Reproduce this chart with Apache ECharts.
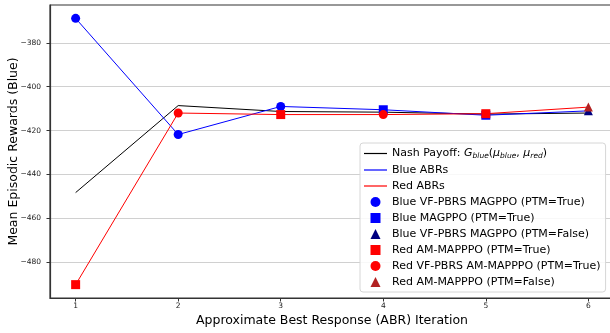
<!DOCTYPE html>
<html>
<head>
<meta charset="utf-8">
<script src="https://cdn.jsdelivr.net/npm/echarts@6/dist/echarts.min.js"></script>
<style>
  html, body { margin: 0; padding: 0; background: #fff; }
  #chart { width: 610px; height: 333px; }
</style>
</head>
<body>
<div id="chart"></div>
<script>
// ABR iterations on the x axis
const iterations = [1, 2, 3, 4, 5, 6];

// Mean episodic rewards (Blue) per iteration
const nashPayoff = [-448.3, -408.6, -411.3, -411.6, -412.5, -412.0];
const blueABR    = [-368.8, -421.8, -409.0, -410.5, -413.0, -411.0];
const redABR     = [-490.3, -412.0, -412.7, -412.7, -412.3, -409.3];

// Which algorithm produced each ABR (index into iterations)
const blueVfPbrsPtmIdx   = [0, 1, 2];
const blueMagppoPtmIdx   = [3, 4];
const blueVfPbrsNoPtmIdx = [5];
const redAmPtmIdx        = [0, 2, 4];
const redVfPbrsPtmIdx    = [1, 3];
const redAmNoPtmIdx      = [5];

// Tick values
const xTicks = [1, 2, 3, 4, 5, 6];
const yTicks = [-480, -460, -440, -420, -400, -380];

const FONT = 'DejaVu Sans';

const pairs = (vals) => iterations.map((x, i) => [x, vals[i]]);
const pick = (vals, idx) => idx.map(i => [iterations[i], vals[i]]);

// Legend glyphs drawn with their own aspect ratio
const ICON_LINE = 'path://M0,0 L23,0 L23,1.2 L0,1.2 Z';
const ICON_SQUARE = 'path://M0,0 L10,0 L10,10 L0,10 Z';
const ICON_TRIANGLE = 'path://M5,0 L10,10 L0,10 Z';

function lineSeries(name, color, vals) {
  return {
    name, type: 'line', data: pairs(vals), symbol: 'none', showSymbol: false,
    lineStyle: { color, width: 1 }, itemStyle: { color },
    z: 2, animation: false
  };
}
function markerSeries(name, color, symbol, size, data) {
  return {
    name, type: 'scatter', data, symbol, symbolSize: size,
    itemStyle: { color, opacity: 1 }, z: 3, animation: false
  };
}

const NASH = 'Nash Payoff';
const S = {
  blueVf: 'Blue VF-PBRS MAGPPO (PTM=True)',
  blueMag: 'Blue MAGPPO (PTM=True)',
  blueVfNo: 'Blue VF-PBRS MAGPPO (PTM=False)',
  redAm: 'Red AM-MAPPPO (PTM=True)',
  redVf: 'Red VF-PBRS AM-MAPPPO (PTM=True)',
  redAmNo: 'Red AM-MAPPPO (PTM=False)'
};

const option = {
  backgroundColor: '#fff',
  animation: false,
  grid: {
    left: 50, top: 5, right: -4, bottom: 35,
    outerBoundsMode: 'none', containLabel: false,
    show: true, borderColor: '#333', borderWidth: 1.2, backgroundColor: 'transparent'
  },
  xAxis: {
    type: 'value', min: 0.75, max: 6.25,
    name: 'Approximate Best Response (ABR) Iteration',
    nameLocation: 'middle', nameGap: 16, nameMoveOverlap: false,
    nameTextStyle: { fontFamily: FONT, fontSize: 12.5, color: '#000' },
    axisLine: { show: true, lineStyle: { color: '#333', width: 1.2 } },
    axisTick: { show: true, length: 3.5, customValues: xTicks, lineStyle: { color: '#333' } },
    axisLabel: { customValues: xTicks, fontFamily: FONT, fontSize: 7.5, color: '#222', margin: 4 },
    splitLine: { show: false }
  },
  yAxis: {
    type: 'value', min: -496.4, max: -362.7,
    name: 'Mean Episodic Rewards (Blue)',
    nameLocation: 'middle', nameGap: 30, nameMoveOverlap: false,
    nameTextStyle: { fontFamily: FONT, fontSize: 12.5, color: '#000' },
    axisLine: { show: true, lineStyle: { color: '#333', width: 1.2 } },
    axisTick: { show: true, length: 3.5, customValues: yTicks, lineStyle: { color: '#333' } },
    axisLabel: {
      customValues: yTicks, fontFamily: FONT, fontSize: 7.5, color: '#222', margin: 9,
      formatter: v => (v < 0 ? '\u2212' : '') + Math.abs(v)
    },
    splitLine: { show: true, lineStyle: { color: '#d0d0d0', width: 1.2 } }
  },
  legend: {
    orient: 'vertical', left: 360, top: 143,
    padding: [4, 5, 4, 4], itemGap: 4, itemWidth: 23, itemHeight: 10,
    symbolKeepAspect: true,
    backgroundColor: 'rgba(255,255,255,0.85)', borderColor: '#d6d6d6', borderWidth: 1, borderRadius: 3,
    data: [
      { name: NASH, icon: ICON_LINE },
      { name: 'Blue ABRs', icon: ICON_LINE },
      { name: 'Red ABRs', icon: ICON_LINE },
      { name: S.blueVf, icon: 'circle' },
      { name: S.blueMag, icon: ICON_SQUARE },
      { name: S.blueVfNo, icon: ICON_TRIANGLE },
      { name: S.redAm, icon: ICON_SQUARE },
      { name: S.redVf, icon: 'circle' },
      { name: S.redAmNo, icon: ICON_TRIANGLE }
    ],
    textStyle: {
      fontFamily: FONT, fontSize: 11, lineHeight: 12, color: '#000',
      rich: {
        t: { fontFamily: FONT, fontSize: 11, color: '#000', lineHeight: 13 },
        m: { fontFamily: FONT, fontSize: 11, fontStyle: 'italic', color: '#000', lineHeight: 13 },
        s: { fontFamily: FONT, fontSize: 7.5, fontStyle: 'italic', color: '#000', lineHeight: 13, verticalAlign: 'bottom' }
      }
    },
    formatter: name => name === NASH
      ? '{t|Nash Payoff: }{m|G}{s|blue}{t|(}{m|\u03bc}{s|blue}{t|, }{m|\u03bc}{s|red}{t|)}'
      : name
  },
  series: [
    lineSeries(NASH, '#000000', nashPayoff),
    lineSeries('Blue ABRs', '#0000ff', blueABR),
    lineSeries('Red ABRs', '#ff0000', redABR),
    markerSeries(S.blueVf, '#0000ff', 'circle', 9, pick(blueABR, blueVfPbrsPtmIdx)),
    markerSeries(S.blueMag, '#0000ff', 'rect', 9, pick(blueABR, blueMagppoPtmIdx)),
    markerSeries(S.blueVfNo, '#000080', 'triangle', 9, pick(blueABR, blueVfPbrsNoPtmIdx)),
    markerSeries(S.redAm, '#ff0000', 'rect', 9, pick(redABR, redAmPtmIdx)),
    markerSeries(S.redVf, '#ff0000', 'circle', 9, pick(redABR, redVfPbrsPtmIdx)),
    markerSeries(S.redAmNo, '#b22222', 'triangle', 9, pick(redABR, redAmNoPtmIdx))
  ]
};

const chart = echarts.init(document.getElementById('chart'), null, { renderer: 'canvas' });
chart.setOption(option);
</script>
</body>
</html>
